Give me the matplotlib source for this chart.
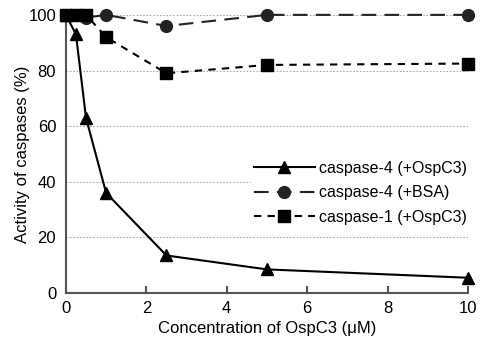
import matplotlib
matplotlib.use('Agg')
import matplotlib.pyplot as plt

plt.rcParams['font.family'] = ['Liberation Sans', 'DejaVu Sans']

conc = [0, 0.25, 0.5, 1, 2.5, 5, 10]
casp4_ospc3 = [100, 93, 63, 36, 13.5, 8.5, 5.5]
casp4_bsa = [100, 100, 99, 100, 96, 100, 100]
casp1_ospc3 = [100, 100, 100, 92, 79, 82, 82.5]

fig = plt.figure(figsize=(4.81, 3.38), dpi=100)
ax = fig.add_axes([0.137, 0.133, 0.836, 0.823])

for yv in [20, 40, 60, 80, 100]:
    ax.axhline(yv, color='#aaaaaa', lw=0.8, ls=(0, (1.5, 1.5)), zorder=0)

ax.plot(conc, casp4_ospc3, color='black', lw=1.5, marker='^', ms=9,
        label='caspase-4 (+OspC3)', clip_on=False, zorder=3)
ax.plot(conc, casp4_bsa, color='#222222', lw=1.5, ls=(0, (7, 4)), marker='o', ms=8.5,
        label='caspase-4 (+BSA)', clip_on=False, zorder=3)
ax.plot(conc, casp1_ospc3, color='black', lw=1.5, ls=(0, (3.5, 3)), marker='s', ms=8,
        label='caspase-1 (+OspC3)', clip_on=False, zorder=3)

ax.set_xlim(0, 10)
ax.set_ylim(0, 100)
ax.set_xticks([0, 2, 4, 6, 8, 10])
ax.set_yticks([0, 20, 40, 60, 80, 100])
ax.tick_params(axis='x', direction='in', length=5, width=1.5, color='#555555', labelsize=12, pad=6)
ax.tick_params(axis='y', length=0, labelsize=12, pad=7)
for s in ['top', 'right']:
    ax.spines[s].set_visible(False)
for s in ['left', 'bottom']:
    ax.spines[s].set_color('#555555')
    ax.spines[s].set_linewidth(1.5)

ax.set_xlabel('Concentration of OspC3 (μM)', fontsize=12, labelpad=3)
ax.set_ylabel('Activity of caspases (%)', fontsize=12)
ax.yaxis.set_label_coords(-0.09, 0.5)

leg = ax.legend(loc='center left', bbox_to_anchor=(0.44, 0.36), frameon=True,
                fontsize=11.5, handlelength=3.8, handletextpad=0.3,
                labelspacing=0.6, borderpad=0.2)
leg.get_frame().set_edgecolor('white')
leg.get_frame().set_facecolor('white')
leg.get_frame().set_alpha(1)

fig.savefig('out.png', dpi=100)
